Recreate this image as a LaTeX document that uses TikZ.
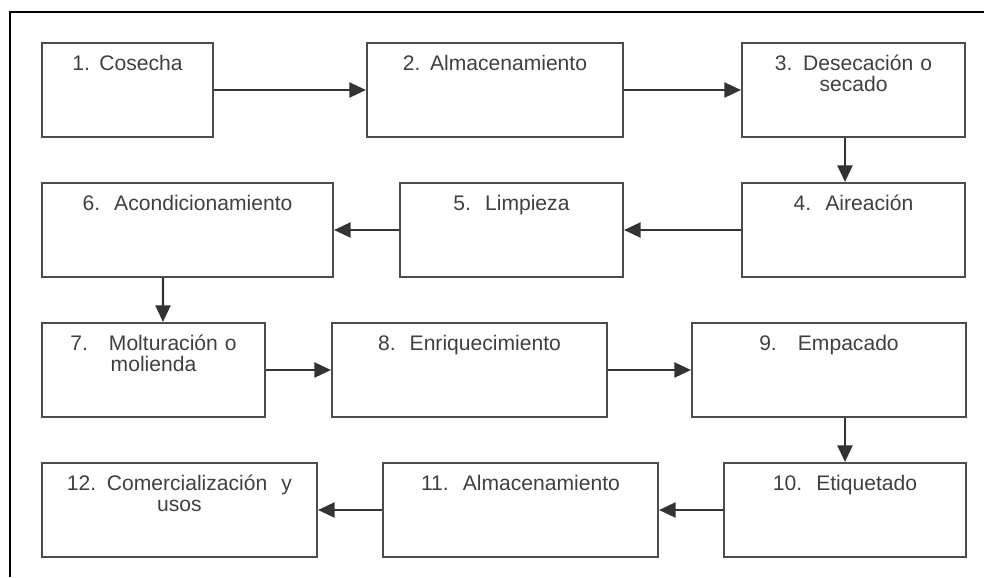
\documentclass[tikz,border=0pt]{standalone}
\usepackage{fontspec}
\setmainfont{Liberation Sans}
\frenchspacing
\usetikzlibrary{arrows.meta, calc}
\tikzset{
  every node/.style={font=\fontsize{12}{12.5}\selectfont, text=black!75},
  stage/.style = {rectangle, draw=black!70, line width=1.2pt, fill=white,
                  inner sep=0pt, align=center, text width=#1,
                  text height=0.54cm, text depth=1.34cm},
  arrow/.style = {-{Triangle[length=3.3mm,width=3mm]}, draw=black!80, line width=1.2pt},
  frame/.style = {draw=black, line width=1.2pt},
}

\begin{document}
\begin{tikzpicture}
  \useasboundingbox (0,0) rectangle (19.68,-11.54);
  \draw[frame] (0.20,-11.54) -- (0.20,-0.24) -- (19.68,-0.24);

  % ---- row 1 ----
  \node[stage=3.42cm] (b1) at (2.55,-1.80)  {1.\hspace{0.45em}Cosecha};
  \node[stage=5.12cm] (b2) at (9.90,-1.80)  {2.\hspace{0.45em}Almacenamiento};
  \node[stage=4.46cm] (b3) at (17.07,-1.80) {3.\hspace{0.5em}Desecación o\\secado};

  % ---- row 2 ----
  \node[stage=4.46cm] (b4) at (17.07,-4.60) {4.~~Aireación};
  \node[stage=4.46cm] (b5) at (10.23,-4.60) {5.~~Limpieza};
  \node[stage=5.82cm] (b6) at (3.75,-4.60)  {6.~~Acondicionamiento};

  % ---- row 3 ----
  \node[stage=4.46cm] (b7) at (3.07,-7.40)  {7.~~~Molturación o\\molienda};
  \node[stage=5.50cm] (b8) at (9.39,-7.40)  {8.~~Enriquecimiento};
  \node[stage=5.48cm] (b9) at (16.58,-7.40) {9.~~~Empacado};

  % ---- row 4 ----
  \node[stage=4.84cm] (b10) at (16.90,-10.20) {10.~~Etiquetado};
  \node[stage=5.50cm] (b11) at (10.41,-10.20) {11.~~Almacenamiento};
  \node[stage=5.50cm] (b12) at (3.59,-10.20)  {12.\hspace{0.5em}Comercialización~~y\\usos};

  % ---- flow ----
  \draw[arrow] (b1) -- (b2);
  \draw[arrow] (b2) -- (b3);
  \draw[arrow] ([xshift=-0.17cm]b3.south) -- ([xshift=-0.17cm]b4.north);
  \draw[arrow] (b4) -- (b5);
  \draw[arrow] (b5) -- (b6);
  \draw[arrow] ([xshift=-0.49cm]b6.south) -- ([xshift=0.19cm]b7.north);
  \draw[arrow] (b7) -- (b8);
  \draw[arrow] (b8) -- (b9);
  \draw[arrow] (b9.south -| b10.north) -- (b10.north);
  \draw[arrow] (b10) -- (b11);
  \draw[arrow] (b11) -- (b12);
\end{tikzpicture}
\end{document}
